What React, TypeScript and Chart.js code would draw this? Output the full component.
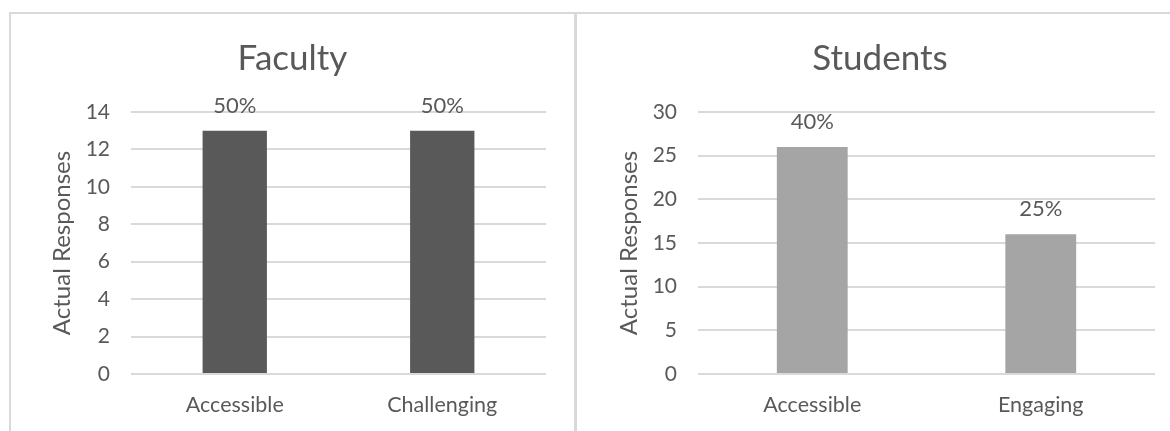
import { useEffect, useRef } from "react";
import { Chart, registerables } from "chart.js";

Chart.register(...registerables);

const FONT_FAMILY = "Lato, 'Open Sans', sans-serif";
const TEXT_COLOR = "#595959";
const GRID_COLOR = "#d9d9d9";

// Faculty survey
const facultyCategories = ["Accessible", "Challenging"];
const facultyResponses = [13, 13];
const facultyShares = ["50%", "50%"];
const facultyTicks = [0, 2, 4, 6, 8, 10, 12, 14];

// Student survey
const studentCategories = ["Accessible", "Engaging"];
const studentResponses = [26, 16];
const studentShares = ["40%", "25%"];
const studentTicks = [0, 5, 10, 15, 20, 25, 30];

const CANVAS_HEIGHT = 431;
// Distance from the panel's left edge to the plot area, and to the centre of the axis title.
const PLOT_LEFT = 122;
const AXIS_TITLE_CENTER = 53;
const AXIS_TITLE_SIZE = 24;

// Draws the percentage text above each bar.
const shareLabels = {
  id: "shareLabels",
  afterDatasetsDraw(chart: any, _args: any, opts: any) {
    const { ctx } = chart;
    const meta = chart.getDatasetMeta(0);
    ctx.save();
    ctx.font = `${opts.size}px ${FONT_FAMILY}`;
    ctx.fillStyle = TEXT_COLOR;
    ctx.textAlign = "center";
    ctx.textBaseline = "middle";
    meta.data.forEach((bar: any, i: number) => {
      ctx.fillText(opts.labels[i], bar.x, bar.y - opts.offset);
    });
    ctx.restore();
  },
};

type PanelProps = {
  title: string;
  categories: string[];
  values: number[];
  shares: string[];
  ticks: number[];
  color: string;
  left: number;
  width: number;
  sidePad: number;
};

function BarPanel({ title, categories, values, shares, ticks, color, left, width, sidePad }: PanelProps) {
  const ref = useRef<HTMLCanvasElement>(null);

  useEffect(() => {
    const font = (size: number) => ({ family: FONT_FAMILY, size, weight: "normal" as const });
    const titleLine = AXIS_TITLE_SIZE * 1.2;
    const chart = new Chart(ref.current!, {
      type: "bar",
      data: {
        labels: categories,
        datasets: [
          {
            data: values,
            backgroundColor: color,
            borderWidth: 0,
            barPercentage: 1,
            categoryPercentage: 0.31,
          },
        ],
      },
      options: {
        responsive: false,
        maintainAspectRatio: false,
        animation: false,
        // equal side padding keeps the chart title centred in the panel
        layout: { padding: { left: sidePad, right: sidePad, top: 0, bottom: 0 } },
        plugins: {
          legend: { display: false },
          tooltip: { enabled: false },
          title: {
            display: true,
            text: title,
            color: TEXT_COLOR,
            font: font(35),
            padding: { top: 38, bottom: 32 },
          },
          // @ts-ignore
          shareLabels: { labels: shares, size: 22, offset: 25 },
        },
        scales: {
          x: {
            grid: { display: false, drawTicks: false },
            border: { display: false },
            ticks: { color: TEXT_COLOR, font: font(21.5), padding: 18 },
            afterFit: (scale: any) => {
              scale.height = 57;
            },
          },
          y: {
            min: ticks[0],
            max: ticks[ticks.length - 1],
            afterBuildTicks: (scale: any) => {
              scale.ticks = ticks.map((v) => ({ value: v }));
            },
            afterFit: (scale: any) => {
              scale.width = PLOT_LEFT - sidePad;
            },
            grid: { color: GRID_COLOR, lineWidth: 2, drawTicks: false },
            border: { display: false },
            ticks: { color: TEXT_COLOR, font: font(21), padding: 21 },
            title: {
              display: true,
              text: "Actual Responses",
              color: TEXT_COLOR,
              font: font(AXIS_TITLE_SIZE),
              padding: { top: AXIS_TITLE_CENTER - sidePad - titleLine / 2, bottom: 0 },
            },
          },
        },
      },
      plugins: [shareLabels],
    });
    return () => chart.destroy();
  }, []);

  return (
    <canvas
      ref={ref}
      width={width}
      height={CANVAS_HEIGHT}
      style={{ position: "absolute", left, top: 0, width, height: CANVAS_HEIGHT }}
    />
  );
}

export default function App() {
  return (
    <div
      style={{
        position: "fixed",
        left: 0,
        top: 0,
        width: 1170,
        height: 431,
        overflow: "hidden",
        background: "#ffffff",
      }}
    >
      <div
        style={{
          position: "absolute",
          left: 9,
          top: 12,
          width: 1400,
          height: 700,
          borderLeft: "2px solid #d9d9d9",
          borderTop: "2px solid #d9d9d9",
        }}
      />
      <div
        style={{
          position: "absolute",
          left: 574,
          top: 12,
          width: 3,
          height: 700,
          background: "#d9d9d9",
        }}
      />
      <BarPanel
        title="Faculty"
        categories={facultyCategories}
        values={facultyResponses}
        shares={facultyShares}
        ticks={facultyTicks}
        color="#595959"
        left={9}
        width={567}
        sidePad={30}
      />
      <BarPanel
        title="Students"
        categories={studentCategories}
        values={studentResponses}
        shares={studentShares}
        ticks={studentTicks}
        color="#a5a5a5"
        left={576}
        width={608}
        sidePad={29}
      />
    </div>
  );
}
